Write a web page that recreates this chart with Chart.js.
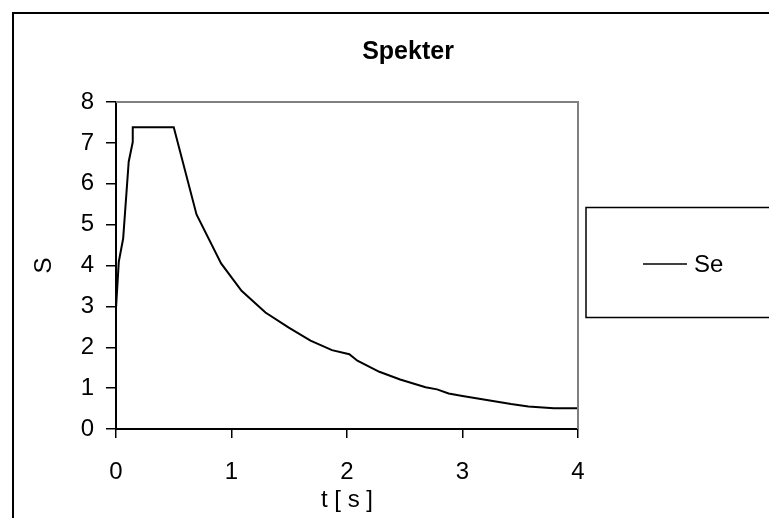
<!DOCTYPE html>
<html>
<head>
<meta charset="utf-8">
<script src="https://cdn.jsdelivr.net/npm/chart.js@4/dist/chart.umd.min.js"></script>
<style>
  body { margin: 0; background: #fff; }
</style>
</head>
<body>
<canvas id="c" width="769" height="518"></canvas>
<script>
// spectrum values
const tValues = [0, 0.024, 0.062, 0.11, 0.145, 0.145, 0.5, 0.697, 0.91, 1.087, 1.294, 1.496, 1.684, 1.87, 2.02, 2.09, 2.28, 2.46, 2.68, 2.78, 2.88, 3.0, 3.21, 3.42, 3.57, 3.79, 4.0];
const seValues = [2.95, 4.09, 4.66, 6.54, 7.02, 7.38, 7.38, 5.25, 4.05, 3.38, 2.85, 2.48, 2.16, 1.93, 1.83, 1.67, 1.40, 1.21, 1.02, 0.97, 0.87, 0.81, 0.71, 0.61, 0.55, 0.51, 0.51];
const seriesName = "Se";
const chartTitle = "Spekter";
const xTitle = "t [ s ]";
const yTitle = "S";

const font = "'Liberation Sans', Arial, sans-serif";

// outer frame, title, grey plot border and the boxed legend
const framePlugin = {
  id: "frame",
  afterDraw(chart) {
    const ctx = chart.ctx;
    const a = chart.chartArea;
    ctx.save();
    ctx.strokeStyle = "#000";
    ctx.lineWidth = 2;
    ctx.strokeRect(13, 13, 900, 700);

    ctx.fillStyle = "#000";
    ctx.font = "bold 25px " + font;
    ctx.textAlign = "center";
    ctx.textBaseline = "middle";
    ctx.fillText(chartTitle, 408, 52);

    ctx.strokeStyle = "#808080";
    ctx.lineWidth = 2;
    ctx.beginPath();
    ctx.moveTo(a.left, a.top);
    ctx.lineTo(a.right, a.top);
    ctx.lineTo(a.right, a.bottom);
    ctx.stroke();

    // legend
    ctx.strokeStyle = "#000";
    ctx.lineWidth = 1.5;
    ctx.strokeRect(586, 207.5, 300, 110);
    ctx.beginPath();
    ctx.moveTo(643, 264);
    ctx.lineTo(687, 264);
    ctx.stroke();
    ctx.font = "24px " + font;
    ctx.textAlign = "left";
    ctx.fillText(chart.data.datasets[0].label, 694, 265);
    ctx.restore();
  }
};

new Chart(document.getElementById("c"), {
  type: "line",
  data: {
    datasets: [{
      label: seriesName,
      data: tValues.map((t, i) => ({ x: t, y: seValues[i] })),
      borderColor: "#000",
      borderWidth: 2,
      pointRadius: 0,
      tension: 0,
      fill: false
    }]
  },
  options: {
    responsive: false,
    animation: false,
    layout: { padding: { left: 0, right: 191, top: 102, bottom: 0 } },
    plugins: {
      legend: { display: false },
      tooltip: { enabled: false },
      title: { display: false }
    },
    scales: {
      x: {
        type: "linear",
        min: 0,
        max: 4,
        ticks: { stepSize: 1, color: "#000", padding: 20, font: { family: font, size: 24 } },
        grid: { drawOnChartArea: false, drawTicks: true, tickLength: 9, color: "#000", lineWidth: 1.5 },
        border: { color: "#000", width: 2 },
        title: { display: true, text: xTitle, color: "#000", font: { family: font, size: 24 }, padding: { top: 0, bottom: 3 } },
        afterFit(scale) { scale.height = 89; }
      },
      y: {
        min: 0,
        max: 8,
        ticks: { stepSize: 1, color: "#000", padding: 12, font: { family: font, size: 24 } },
        grid: { drawOnChartArea: false, drawTicks: true, tickLength: 10, color: "#000", lineWidth: 1.5 },
        border: { color: "#000", width: 2 },
        title: { display: true, text: yTitle, color: "#000", font: { family: font, size: 24 }, padding: { top: 30, bottom: 0 } },
        afterFit(scale) { scale.width = 116; }
      }
    }
  },
  plugins: [framePlugin]
});
</script>
</body>
</html>
